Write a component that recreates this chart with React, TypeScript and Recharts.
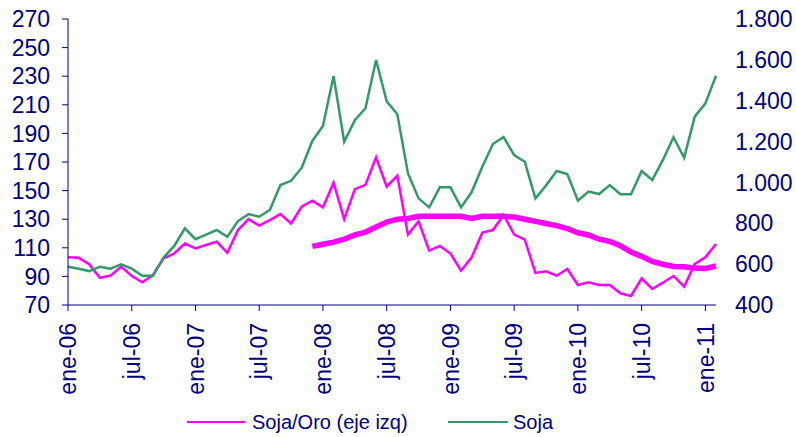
import React from 'react';
import { LineChart, Line, XAxis, YAxis, Legend } from 'recharts';

const meses = [
  'ene-06', 'feb-06', 'mar-06', 'abr-06', 'may-06', 'jun-06', 'jul-06', 'ago-06', 'sep-06', 'oct-06', 'nov-06', 'dic-06',
  'ene-07', 'feb-07', 'mar-07', 'abr-07', 'may-07', 'jun-07', 'jul-07', 'ago-07', 'sep-07', 'oct-07', 'nov-07', 'dic-07',
  'ene-08', 'feb-08', 'mar-08', 'abr-08', 'may-08', 'jun-08', 'jul-08', 'ago-08', 'sep-08', 'oct-08', 'nov-08', 'dic-08',
  'ene-09', 'feb-09', 'mar-09', 'abr-09', 'may-09', 'jun-09', 'jul-09', 'ago-09', 'sep-09', 'oct-09', 'nov-09', 'dic-09',
  'ene-10', 'feb-10', 'mar-10', 'abr-10', 'may-10', 'jun-10', 'jul-10', 'ago-10', 'sep-10', 'oct-10', 'nov-10', 'dic-10',
  'ene-11', 'feb-11',
];

// Soja/Oro, eje izquierdo
const sojaOro = [
  103.4, 103, 98.5, 89, 90.5, 96.8, 90.3, 85.9, 91, 102.7,
  106, 113, 109.6, 112, 114.3, 106.5, 122.4, 130, 125.5, 129.4,
  133.6, 127, 138.7, 143, 138.3, 155.5, 130, 151, 154, 173.3,
  152.7, 160.4, 119.2, 128.5, 108, 111.3, 106, 94, 103.4, 120.6,
  122.4, 133, 119.2, 115.7, 92.4, 93.6, 90.5, 95.2, 84, 85.9,
  84, 84, 78.2, 76.3, 88.7, 81.2, 85.6, 90.3, 82.8, 98.7,
  103.4, 112.7,
];

// promedio movil de Soja/Oro (linea gruesa), empieza en dic-07
const promedio = [
  null, null, null, null, null, null, null, null, null, null,
  null, null, null, null, null, null, null, null, null, null,
  null, null, null,
  111, 112.5, 114, 116, 119, 121, 124.5, 128, 130, 130.5,
  132, 132, 132, 132, 132, 130.5, 132, 132, 132, 131.5,
  130, 128.5, 127, 125.5, 123.5, 120.5, 119, 116, 114.5, 111.5,
  107, 104, 100.5, 98.5, 97, 96.8, 95.8, 95.5, 97.3,
];

// Soja, eje derecho
const soja = [
  587, 577, 566, 587, 578, 599, 578, 543, 543, 633,
  689, 775, 722, 745, 767, 734, 811, 845, 832, 865,
  987, 1008, 1072, 1203, 1276, 1521, 1199, 1305, 1363, 1599,
  1397, 1334, 1045, 922, 878, 976, 976, 878, 953, 1077,
  1188, 1222, 1134, 1101, 922, 985, 1056, 1041, 911, 955,
  943, 987, 942, 942, 1056, 1012, 1110, 1221, 1121, 1322,
  1387, 1522,
];

const ticksIzq = [70, 90, 110, 130, 150, 170, 190, 210, 230, 250, 270];
const ticksDer = [400, 600, 800, 1000, 1200, 1400, 1600, 1800];

const data = meses.map((mes, i) => ({
  mes,
  sojaOro: sojaOro[i],
  promedio: promedio[i],
  soja: soja[i],
}));

const NAVY = '#000080';
const MAGENTA = '#FF00FF';
const GREEN = '#339966';
const FONT = '"Liberation Sans", Arial, sans-serif';

const fmtMiles = (v: number) =>
  v >= 1000 ? `${Math.floor(v / 1000)}.${String(v % 1000).padStart(3, '0')}` : String(v);

const MesTick = ({ x, y, payload }: any) => (
  <g transform={`translate(${x},${y})`}>
    <text
      transform="rotate(-90)"
      textAnchor="end"
      dy="0.36em"
      fill={NAVY}
      fontSize={23}
      fontFamily={FONT}
    >
      {payload.value}
    </text>
  </g>
);

const Leyenda = () => (
  <div style={{ position: 'relative', height: 30, fontFamily: FONT, fontSize: 20, color: NAVY }}>
    <div style={{ position: 'absolute', left: 187, top: 0, height: 30, display: 'flex', alignItems: 'center' }}>
      <div style={{ width: 58, height: 2, background: MAGENTA, marginRight: 7 }} />
      <span>Soja/Oro (eje izq)</span>
    </div>
    <div style={{ position: 'absolute', left: 448, top: 0, height: 30, display: 'flex', alignItems: 'center' }}>
      <div style={{ width: 60, height: 2, background: GREEN, marginRight: 5 }} />
      <span>Soja</span>
    </div>
  </div>
);

export default function App() {
  return (
    <div style={{ position: 'absolute', left: 0, top: 0, background: '#ffffff' }}>
      <LineChart width={796} height={437} data={data} margin={{ top: 19, right: 0, left: 0, bottom: 0 }}>
        <XAxis
          dataKey="mes"
          interval={5}
          height={102}
          tickSize={6}
          tickMargin={12}
          stroke={NAVY}
          axisLine={{ stroke: NAVY }}
          tickLine={{ stroke: NAVY }}
          tick={<MesTick />}
        />
        <YAxis
          yAxisId="izq"
          width={68}
          domain={[70, 270]}
          ticks={ticksIzq}
          interval={0}
          tickSize={6}
          tickMargin={12}
          axisLine={{ stroke: NAVY }}
          tickLine={{ stroke: NAVY }}
          tick={{ fill: NAVY, fontSize: 23, fontFamily: FONT }}
        />
        <YAxis
          yAxisId="der"
          orientation="right"
          width={80}
          domain={[400, 1800]}
          ticks={ticksDer}
          interval={0}
          tickSize={6}
          tickMargin={13}
          axisLine={false}
          tickLine={false}
          tickFormatter={fmtMiles}
          tick={{ fill: NAVY, fontSize: 23, fontFamily: FONT, textAnchor: 'start' }}
        />
        <Legend verticalAlign="bottom" content={<Leyenda />} />
        <Line
          yAxisId="izq"
          dataKey="sojaOro"
          name="Soja/Oro (eje izq)"
          stroke={MAGENTA}
          strokeWidth={2.5}
          dot={false}
          isAnimationActive={false}
        />
        <Line
          yAxisId="izq"
          dataKey="promedio"
          legendType="none"
          stroke={MAGENTA}
          strokeWidth={5.5}
          dot={false}
          isAnimationActive={false}
        />
        <Line
          yAxisId="der"
          dataKey="soja"
          name="Soja"
          stroke={GREEN}
          strokeWidth={2.5}
          dot={false}
          isAnimationActive={false}
        />
      </LineChart>
    </div>
  );
}
